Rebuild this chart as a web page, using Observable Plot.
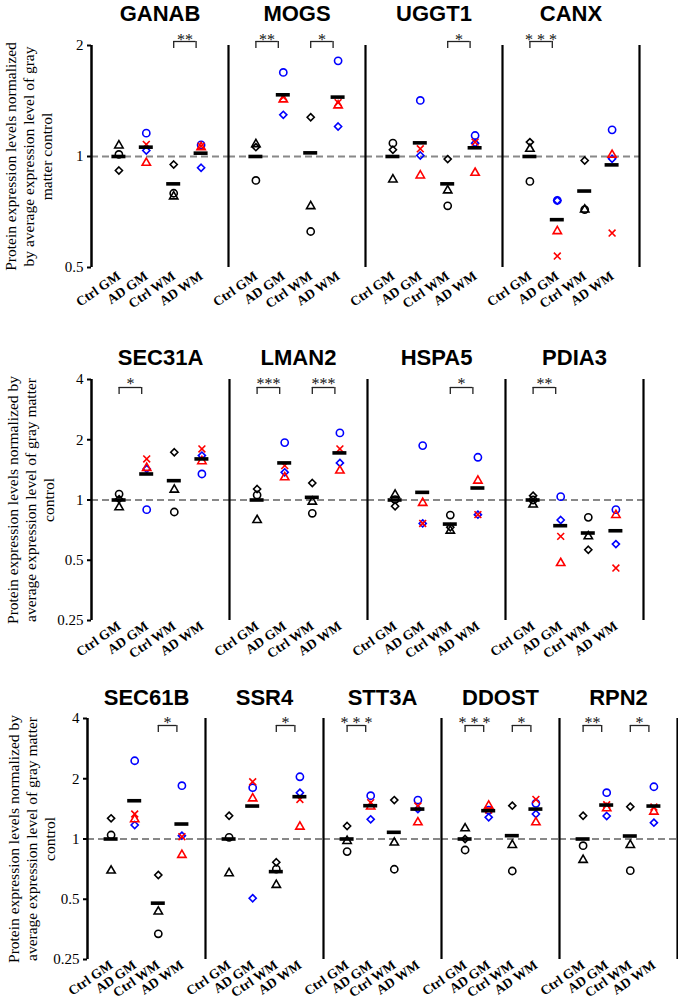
<!DOCTYPE html>
<html>
<head>
<meta charset="utf-8">
<script src="https://cdn.jsdelivr.net/npm/d3@7"></script>
<script src="https://cdn.jsdelivr.net/npm/@observablehq/plot@0.6"></script>
<style>
  html, body { margin: 0; padding: 0; background: #fff; }
  #chart { width: 678px; }
  #chart svg { display: block; overflow: visible; background: #fff; font-family: 'Liberation Serif', 'Times New Roman', serif; font-size: 15px; }
  g[aria-label="x-axis tick label"] { font-weight: bold; }
</style>
</head>
<body>
<div id="chart"></div>
<script>
// ---------- data ----------
const groups = ["Ctrl GM", "AD GM", "Ctrl WM", "AD WM"];
// Ctrl groups: [black diamond, black circle, black triangle]
// AD groups:   [blue circle, blue diamond, red triangle, red x]
const ctrlMarkers = ["diamond", "circle", "triangle"];
const adMarkers = ["circle", "diamond", "triangle", "x"];
const adColors = ["blue", "blue", "red", "red"];

const row1Proteins = ["GANAB", "MOGS", "UGGT1", "CANX"];
const row2Proteins = ["SEC31A", "LMAN2", "HSPA5", "PDIA3"];
const row3Proteins = ["SEC61B", "SSR4", "STT3A", "DDOST", "RPN2"];

const GANAB = [[0.916, 1.013, 1.071], [1.157, 1.038, 0.961, 1.078], [0.951, 0.795, 0.779], [1.075, 0.932, 1.06, 1.067]];
const MOGS = [[1.06, 0.861, 1.08], [1.69, 1.297, 1.428, 1.45], [1.278, 0.626, 0.733], [1.817, 1.206, 1.375, 1.40]];
const UGGT1 = [[1.043, 1.087, 0.866], [1.419, 1.006, 0.888, 1.049], [0.984, 0.735, 0.809], [1.14, 1.087, 0.903, 1.094]];
const CANX = [[1.094, 0.856, 1.049], [0.76, 0.76, 0.627, 0.537], [0.975, 0.718, 0.718], [1.181, 0.986, 1.01, 0.62]];
const SEC31A = [[1.01, 1.071, 0.919], [0.895, 1.43, 1.446, 1.604], [1.732, 0.871, 1.126], [1.349, 1.667, 1.561, 1.80]];
const LMAN2 = [[1.135, 1.059, 0.794], [1.936, 1.375, 1.298, 1.485], [1.216, 0.858, 0.981], [2.164, 1.532, 1.402, 1.80]];
const HSPA5 = [[0.93, 1.005, 1.063], [1.87, 0.764, 0.966, 0.764], [0.731, 0.841, 0.702], [1.635, 0.845, 1.249, 0.845]];
const PDIA3 = [[1.051, 1.0, 0.948], [1.039, 0.794, 0.484, 0.658], [0.564, 0.819, 0.658], [0.895, 0.602, 0.841, 0.457]];
const SEC61B = [[1.268, 1.047, 0.695], [2.46, 1.174, 1.254, 1.333], [0.661, 0.336, 0.434], [1.846, 1.039, 0.832, 1.027]];
const SSR4 = [[1.307, 1.019, 0.674], [1.804, 0.506, 1.595, 1.932], [0.765, 0.707, 0.589], [2.046, 1.703, 1.152, 1.577]];
const STT3A = [[1.161, 0.865, 0.977], [1.645, 1.254, 1.451, 1.518], [1.565, 0.706, 0.959], [1.565, 1.41, 1.211, 1.46]];
const DDOST = [[1.0, 0.881, 1.13], [1.395, 1.283, 1.467, 1.395], [1.467, 0.692, 0.933], [1.507, 1.333, 1.211, 1.577]];
const RPN2 = [[1.307, 0.926, 0.786], [1.703, 1.303, 1.423, 1.483], [1.45, 0.695, 0.933], [1.824, 1.207, 1.369, 1.444]];

// group means (horizontal bars)
const GANAB_mean = [1.0, 1.06, 0.843, 1.021];
const MOGS_mean = [1.0, 1.47, 1.023, 1.449];
const UGGT1_mean = [1.0, 1.089, 0.843, 1.056];
const CANX_mean = [1.0, 0.674, 0.806, 0.949];
const SEC31A_mean = [1.0, 1.349, 1.249, 1.604];
const LMAN2_mean = [1.0, 1.532, 1.031, 1.719];
const HSPA5_mean = [1.0, 1.092, 0.758, 1.148];
const PDIA3_mean = [1.0, 0.744, 0.684, 0.702];
const SEC61B_mean = [1.0, 1.553, 0.478, 1.188];
const SSR4_mean = [1.0, 1.461, 0.687, 1.627];
const STT3A_mean = [1.0, 1.467, 1.08, 1.411];
const DDOST_mean = [1.0, 1.385, 1.039, 1.411];
const RPN2_mean = [1.0, 1.478, 1.035, 1.461];

// significance brackets: [protein, from group, to group, label]
const significance = [
  ["GANAB", 3, 4, "**"], ["MOGS", 1, 2, "**"], ["MOGS", 3, 4, "*"], ["UGGT1", 3, 4, "*"], ["CANX", 1, 2, "* * *"],
  ["SEC31A", 1, 2, "*"], ["LMAN2", 1, 2, "***"], ["LMAN2", 3, 4, "***"], ["HSPA5", 3, 4, "*"], ["PDIA3", 1, 2, "**"],
  ["SEC61B", 3, 4, "*"], ["SSR4", 3, 4, "*"], ["STT3A", 1, 2, "* * *"], ["DDOST", 1, 2, "* * *"], ["DDOST", 3, 4, "*"],
  ["RPN2", 1, 2, "**"], ["RPN2", 3, 4, "*"]
];

const row1Ticks = [0.5, 1, 2];
const row23Ticks = [0.25, 0.5, 1, 2, 4];
const row1Label = "Protein expression levels normalized\nby average expression level of gray\nmatter control";
const row23Label = "Protein expression levels normalized by\naverage expression level of gray matter\ncontrol";

// ---------- tables ----------
const values = {GANAB, MOGS, UGGT1, CANX, SEC31A, LMAN2, HSPA5, PDIA3, SEC61B, SSR4, STT3A, DDOST, RPN2};
const means = {GANAB: GANAB_mean, MOGS: MOGS_mean, UGGT1: UGGT1_mean, CANX: CANX_mean, SEC31A: SEC31A_mean,
  LMAN2: LMAN2_mean, HSPA5: HSPA5_mean, PDIA3: PDIA3_mean, SEC61B: SEC61B_mean, SSR4: SSR4_mean,
  STT3A: STT3A_mean, DDOST: DDOST_mean, RPN2: RPN2_mean};

function points(p) {
  const out = [];
  values[p].forEach((arr, gi) => {
    const ctrl = gi % 2 === 0;
    arr.forEach((v, k) => out.push({p, g: gi + 1, v, m: ctrl ? ctrlMarkers[k] : adMarkers[k], c: ctrl ? "black" : adColors[k]}));
  });
  return out;
}
const markerR = {circle: 3.6, diamond: 3.2, triangle: 3.1, x: 3.2};
const SERIF = "'Liberation Serif', 'Times New Roman', serif";
const SANS = "'Liberation Sans', Arial, sans-serif";

function row(cfg) {
  const pts = cfg.proteins.flatMap(points);
  const mns = cfg.proteins.flatMap(p => means[p].map((m, i) => ({p, g: i + 1, m})));
  const sg = significance.filter(s => cfg.proteins.includes(s[0])).map(([p, i, j, t]) => ({p, i, j, t}));
  const top = cfg.yDomain[1];
  return Plot.plot({
    width: 678,
    height: cfg.height,
    marginTop: cfg.marginTop,
    marginBottom: cfg.marginBottom,
    marginLeft: cfg.marginLeft,
    marginRight: cfg.marginRight,
    fx: {domain: cfg.proteins, padding: 0, axis: null},
    x: {domain: [0, 5]},
    y: {type: "log", domain: cfg.yDomain},
    symbol: {domain: ["circle", "diamond", "triangle", "x"], range: ["circle", "diamond2", "triangle", "times"]},
    color: {domain: ["black", "blue", "red"], range: ["#000000", "#3060ff", "#ff1a1a"]},
    r: {type: "identity"},
    marks: [
      Plot.ruleY([1], {stroke: "#888", strokeWidth: 2, strokeDasharray: "7,4"}),
      Plot.ruleX(cfg.proteins, {fx: d => d, x: 5, stroke: "black", strokeWidth: 2.2}),
      Plot.ruleX([cfg.proteins[0]], {fx: d => d, x: 0, stroke: "black", strokeWidth: 2.5}),
      Plot.axisY({ticks: cfg.yTicks, tickFormat: d => String(d), tickSize: 4, tickPadding: 4, strokeWidth: 2,
        fontSize: 15, fontFamily: SERIF, label: null}),
      Plot.axisX({ticks: [1, 2, 3, 4], tickFormat: i => groups[i - 1], tickRotate: -35, tickSize: 0, tickPadding: cfg.xLabelPad,
        fontSize: 13.5, fontFamily: SERIF, fontWeight: "bold", label: null}),
      Plot.text(cfg.proteins, {fx: d => d, text: d => d, frameAnchor: "top", dy: cfg.titleDy, lineAnchor: "middle",
        fontFamily: SANS, fontWeight: "bold", fontSize: 22}),
      Plot.text([cfg.proteins[0]], {fx: d => d, text: () => cfg.label, frameAnchor: "left", rotate: -90, dx: cfg.labelDx,
        textAnchor: "middle", lineAnchor: "middle", fontSize: 15.5, lineHeight: 1.16, fontFamily: SERIF}),
      // significance brackets
      Plot.ruleY(sg, {fx: "p", y: top, x1: "i", x2: "j", insetRight: 5, dy: cfg.bracketDy, stroke: "#222", strokeWidth: 1.3}),
      Plot.ruleX(sg, {fx: "p", x: "i", y1: top, y2: top, insetTop: 0, insetBottom: -7, dy: cfg.bracketDy, stroke: "#222", strokeWidth: 1.3}),
      Plot.ruleX(sg, {fx: "p", x: "j", y1: top, y2: top, insetTop: 0, insetBottom: -7, dx: -5, dy: cfg.bracketDy, stroke: "#222", strokeWidth: 1.3}),
      Plot.text(sg, {fx: "p", x: d => (d.i + d.j) / 2, y: top, text: "t", dx: -2.5, dy: cfg.starDy, lineAnchor: "middle",
        fontSize: 16, fontFamily: SERIF, fill: "#111"}),
      // samples
      Plot.dot(pts, {fx: "p", x: "g", y: "v", symbol: "m", stroke: "c", r: d => markerR[d.m], fill: "none", strokeWidth: 1.6}),
      // means
      Plot.ruleY(mns, {fx: "p", y: "m", x1: "g", x2: "g", insetLeft: -7, insetRight: -7, stroke: "black", strokeWidth: 3.6})
    ]
  });
}

const chart = document.getElementById("chart");
chart.append(row({proteins: row1Proteins, height: 330, marginTop: 45, marginBottom: 63, marginLeft: 90, marginRight: 39,
  yDomain: [0.5, 2], yTicks: row1Ticks, label: row1Label, labelDx: -63, titleDy: -32, bracketDy: -4, starDy: -6, xLabelPad: 7}));
chart.append(row({proteins: row2Proteins, height: 330, marginTop: 49, marginBottom: 40, marginLeft: 90, marginRight: 35,
  yDomain: [0.25, 4], yTicks: row23Ticks, label: row23Label, labelDx: -61, titleDy: -22, bracketDy: 8, starDy: 4, xLabelPad: 4}));
chart.append(row({proteins: row3Proteins, height: 339, marginTop: 58, marginBottom: 40, marginLeft: 87, marginRight: 1,
  yDomain: [0.25, 4], yTicks: row23Ticks, label: row23Label, labelDx: -56, titleDy: -20.5, bracketDy: 7, starDy: 4, xLabelPad: 4}));
</script>
</body>
</html>
